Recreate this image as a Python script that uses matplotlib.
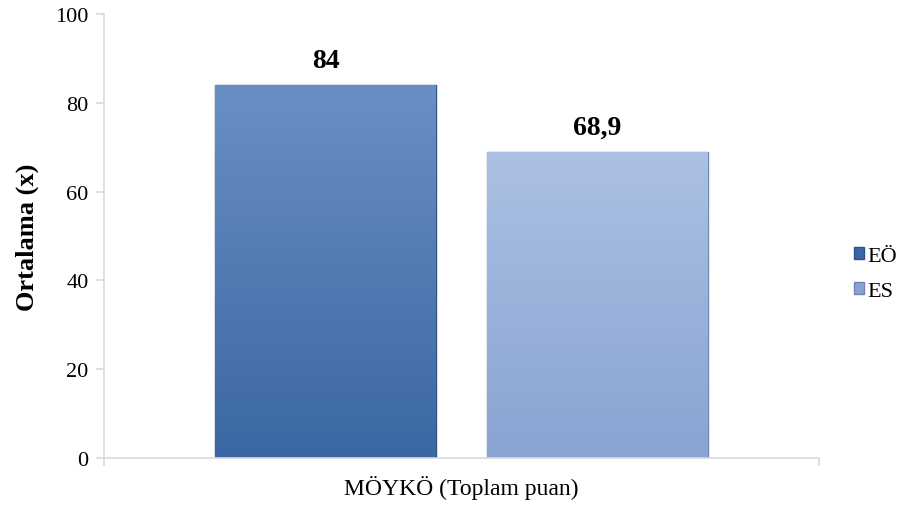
import numpy as np
import matplotlib.pyplot as plt
from matplotlib.colors import LinearSegmentedColormap

# --- DATA ---
category = "MÖYKÖ (Toplam puan)"
groups   = ["EÖ", "ES"]
values   = [84, 68.9]
labels   = ["84", "68,9"]

# top/bottom gradient colours per group
grad_colors = [("#6a8fc4", "#3a67a3"), ("#abc0e3", "#89a4d2")]
edge_colors = ["#2f5384", "#6d86b3"]

plt.rcParams['font.family'] = ['Liberation Serif', 'DejaVu Serif']

fig = plt.figure(figsize=(9.09, 5.06), dpi=100)
ax = fig.add_axes([104/909, 1 - 459/506, 715/909, 444/506])

width = 0.309
offsets = [-0.190, 0.190]

handles = []
for g, v, lab, off, (ctop, cbot), ec in zip(groups, values, labels, offsets, grad_colors, edge_colors):
    bar = ax.bar(off, v, width=width, color=cbot, edgecolor=ec, linewidth=1.0,
                 label=g, zorder=2)[0]
    cmap = LinearSegmentedColormap.from_list(g, [cbot, ctop])
    grad = np.linspace(0, 1, 256).reshape(-1, 1)
    im = ax.imshow(grad, cmap=cmap, origin="lower", aspect="auto",
                   extent=[off - width / 2, off + width / 2, 0, v], zorder=2.5)
    im.set_clip_path(bar)
    ax.text(off, v + 2.7, lab, ha="center", va="bottom", fontsize=20,
            fontweight="bold")
    handles.append(bar)

ax.set_xlim(-0.5, 0.5)
ax.set_ylim(0, 100)
ax.set_yticks(np.arange(0, 101, 20))
ax.set_xticks([0])
ax.set_xticklabels([category], fontsize=17)
ax.set_xticks([-0.5, 0.5], minor=True)
ax.tick_params(axis="x", which="major", length=0, pad=12)
ax.tick_params(axis="x", which="minor", length=6, color="#d9d9d9", width=1.2)
ax.tick_params(axis="y", labelsize=16, length=6, color="#d9d9d9", width=1.2, pad=5)
ax.set_ylabel("Ortalama (x)", fontsize=19, fontweight="bold", labelpad=12)

for s in ["top", "right"]:
    ax.spines[s].set_visible(False)
for s in ["left", "bottom"]:
    ax.spines[s].set_color("#d9d9d9")
    ax.spines[s].set_linewidth(1.2)

leg = fig.legend(handles=handles, labels=groups, loc="center left",
                 bbox_to_anchor=(854/909, 1 - 275/506), frameon=False,
                 fontsize=16, handlelength=0.45, handleheight=0.45,
                 handletextpad=0.15, labelspacing=0.75, borderpad=0,
                 borderaxespad=0)

fig.savefig("out.png", dpi=100)
